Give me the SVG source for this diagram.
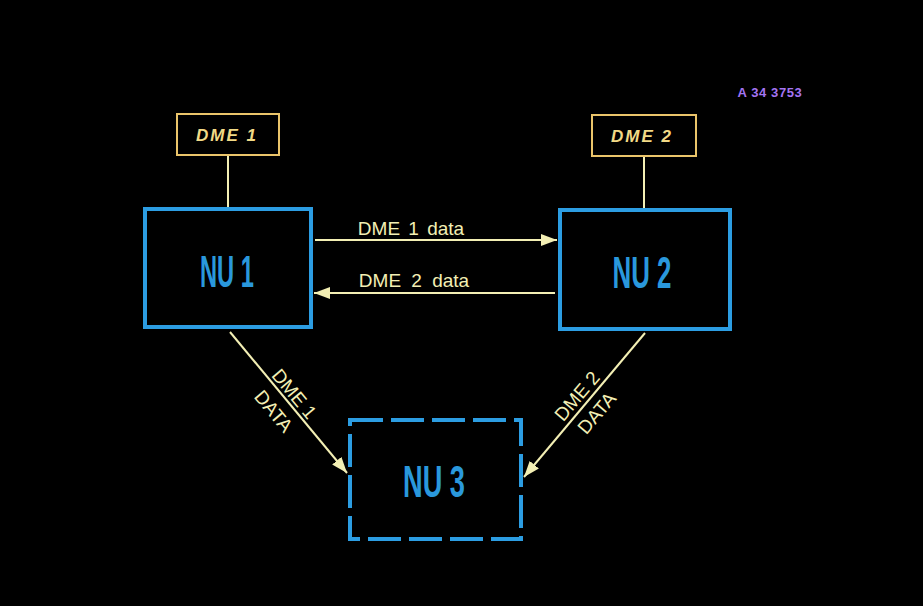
<svg xmlns="http://www.w3.org/2000/svg" width="923" height="606" viewBox="0 0 923 606">
<defs>
<style>
.dme rect{fill:none;stroke:#eac46a;stroke-width:2}
.dme text{font-family:"Liberation Sans",Arial,sans-serif;font-weight:bold;font-style:italic;font-size:17px;letter-spacing:2px;fill:#f2da86;text-anchor:middle}
.nu rect{fill:none;stroke:#2c9de2;stroke-width:4}
.nu text{font-family:"Liberation Sans",Arial,sans-serif;font-weight:bold;font-size:45px;fill:#2a98dc;text-anchor:middle}
.dash rect{stroke-dasharray:33 8}
.conn line{stroke:#f3efb4;stroke-width:2;fill:none}
.lbl{font-family:"Liberation Sans",Arial,sans-serif;font-size:19px;fill:#f3efb4;text-anchor:middle}
.dlbl{font-family:"Liberation Sans",Arial,sans-serif;font-size:19px;fill:#f3efb4;text-anchor:middle}
</style>
<marker id="ah" markerUnits="userSpaceOnUse" markerWidth="18" markerHeight="12" refX="16" refY="6" orient="auto">
<path d="M0,0 L16,6 L0,12 Z" fill="#f3efb4"/>
</marker>
</defs>
<rect width="923" height="606" fill="#000"/>
<text x="770" y="97" font-family="Liberation Sans,Arial,sans-serif" font-weight="bold" font-size="13" letter-spacing="0.6" fill="#a474f2" text-anchor="middle">A 34 3753</text>
<g id="conn" class="conn">
<line x1="228" y1="156" x2="228" y2="207"/>
<line x1="644" y1="157" x2="644" y2="208"/>
<line x1="315" y1="240" x2="557" y2="240" marker-end="url(#ah)"/>
<line x1="555" y1="293" x2="314" y2="293" marker-end="url(#ah)"/>
<line x1="230" y1="332" x2="347" y2="473" marker-end="url(#ah)"/>
<line x1="645" y1="333" x2="524" y2="477" marker-end="url(#ah)"/>
<text class="lbl" x="411" y="235" word-spacing="3">DME 1 data</text>
<text class="lbl" x="414" y="287" word-spacing="5">DME 2 data</text>
<g transform="translate(287,400) rotate(50.3)">
<text class="dlbl" x="0" y="-3">DME 1</text>
<text class="dlbl" x="0" y="24">DATA</text>
</g>
<g transform="translate(585,403) rotate(-49.7)">
<text class="dlbl" x="0" y="-4">DME 2</text>
<text class="dlbl" x="0" y="22">DATA</text>
</g>
</g>
<g id="dme1" class="dme">
<rect x="177" y="114" width="102" height="41"/>
<text x="227" y="141">DME 1</text>
</g>
<g id="dme2" class="dme">
<rect x="592" y="115" width="104" height="41"/>
<text x="642" y="142">DME 2</text>
</g>
<g id="nu1" class="nu">
<rect x="145" y="209" width="166" height="118"/>
<text x="227" y="287" textLength="54" lengthAdjust="spacingAndGlyphs">NU 1</text>
</g>
<g id="nu2" class="nu">
<rect x="560" y="210" width="170" height="119"/>
<text x="642" y="288" textLength="59" lengthAdjust="spacingAndGlyphs">NU 2</text>
</g>
<g id="nu3" class="nu dash">
<rect x="350" y="420" width="171" height="119"/>
<text x="434" y="497" textLength="62" lengthAdjust="spacingAndGlyphs">NU 3</text>
</g>
</svg>
